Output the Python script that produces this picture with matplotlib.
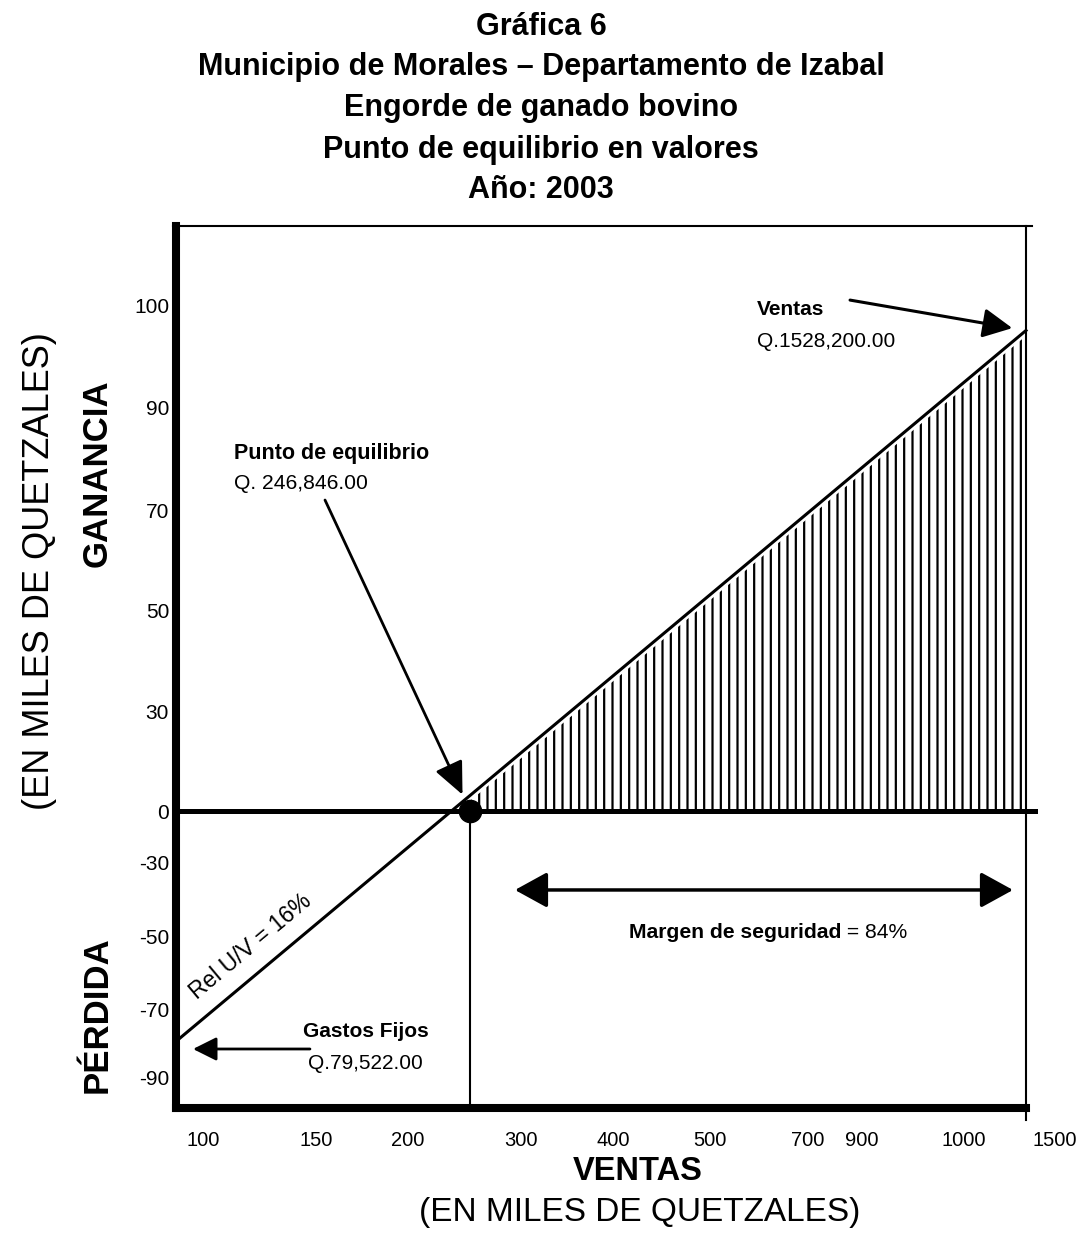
import numpy as np
import matplotlib
matplotlib.use("Agg")
import matplotlib.pyplot as plt
from matplotlib.transforms import ScaledTranslation

plt.rcParams['font.family'] = ['Liberation Sans', 'DejaVu Sans']
plt.rcParams['hatch.linewidth'] = 1.6

# ---------------- data ----------------
title_lines = ["Gráfica 6",
               "Municipio de Morales – Departamento de Izabal",
               "Engorde de ganado bovino",
               "Punto de equilibrio en valores",
               "Año: 2003"]
x_tick_values = [100, 150, 200, 300, 400, 500, 700, 900, 1000, 1500]
y_tick_values = [100, 90, 70, 50, 30, 0, -30, -50, -70, -90]
gastos_fijos = 79.522          # miles de Q
ventas_total = 1528.2          # miles de Q
punto_equilibrio = 246.846     # miles de Q
equilibrio_x = 255             # position of the break-even dot read on the x axis
ventas_y_end = 97.6            # height of the sales line at the right frame
rel_uv = 16
margen_seguridad = 84

# ---------------- layout (axis fractions of the tick labels) ----------------
x_tick_frac = [0.0318, 0.1647, 0.2729, 0.4059, 0.5141, 0.6282, 0.7435, 0.8071, 0.9271, 1.0341]
y_tick_frac = [0.9093, 0.7937, 0.6780, 0.5635, 0.4501, 0.3367, 0.2778, 0.1939, 0.1122, 0.0351]


def piecewise(xs, ps):
    xs = np.asarray(xs, float)
    ps = np.asarray(ps, float)
    order = np.argsort(xs)
    xs, ps = xs[order], ps[order]
    sl_lo = (ps[1] - ps[0]) / (xs[1] - xs[0])
    sl_hi = (ps[-1] - ps[-2]) / (xs[-1] - xs[-2])

    def f(v):
        v = np.asarray(v, dtype=float)
        out = np.interp(v, xs, ps)
        out = np.where(v < xs[0], ps[0] + (v - xs[0]) * sl_lo, out)
        out = np.where(v > xs[-1], ps[-1] + (v - xs[-1]) * sl_hi, out)
        return out
    return f


fx = piecewise(x_tick_values, x_tick_frac)
fx_inv = piecewise(x_tick_frac, x_tick_values)
fy = piecewise(y_tick_values, y_tick_frac)
fy_inv = piecewise(y_tick_frac, y_tick_values)

W, H = 1078, 1239
fig = plt.figure(figsize=(W / 100, H / 100), dpi=100)
L, R, B, T = 176, 1026, 1108, 226
ax = fig.add_axes([L / W, 1 - B / H, (R - L) / W, (B - T) / H])

ax.set_xscale('function', functions=(fx, fx_inv))
ax.set_yscale('function', functions=(fy, fy_inv))
x0, x1 = float(fx_inv(0.0)), float(fx_inv(1.0))
y0, y1 = float(fy_inv(0.0)), float(fy_inv(1.0))
ax.set_xlim(x0, x1)
ax.set_ylim(y0, y1)

# frame
for s in ['top', 'right']:
    ax.spines[s].set_visible(False)
for s in ['left', 'bottom']:
    ax.spines[s].set_linewidth(5.8)
ax.axhline(y1, xmin=-0.004, xmax=1.007, color='k', lw=1.5, clip_on=False)
ax.axvline(x1, ymin=-0.014, ymax=1.0, color='k', lw=1.5, clip_on=False)

# ticks
ax.set_yticks(y_tick_values)
ax.set_yticklabels([str(v) for v in y_tick_values], fontsize=15)
ax.tick_params(axis='y', length=0, pad=5)
ax.set_xticks([])
xt = ax.get_xaxis_transform()
for v in x_tick_values:
    ax.text(v, -0.0363, str(v), transform=xt, ha='center', va='center',
            fontsize=14.5, clip_on=False)

# sales line
ax.plot([x0, x1], [-gastos_fijos, ventas_y_end], color='k', lw=2.2, clip_on=False, zorder=4)
t = (fy(0.0) - fy(-gastos_fijos)) / (fy(ventas_y_end) - fy(-gastos_fijos))
x_cross = float(fx_inv(fx(x0) + t * (fx(x1) - fx(x0))))

# hatched profit area (slightly offset so the hatch stops just below the line)
shift = ax.transData + ScaledTranslation(0.07, 0.0, fig.dpi_scale_trans)
ax.fill([x_cross, x1, x1], [0, 0, ventas_y_end], facecolor='none', edgecolor='k',
        hatch='||', linewidth=0, zorder=2, transform=shift)

# zero line
ax.axhline(0, xmin=0, xmax=1.011, color='k', lw=3.6, clip_on=False, zorder=4)

# break-even vertical line and dot
ax.plot([equilibrio_x, equilibrio_x], [y0, 0], color='k', lw=1.5, zorder=3)
ax.plot([equilibrio_x], [0], 'o', color='k', ms=16, zorder=6)

# annotations
ax.annotate('', xy=(equilibrio_x, 0), xycoords='data',
            xytext=(0.1753, 0.6893), textcoords='axes fraction',
            arrowprops=dict(arrowstyle='-|>,head_length=1.0,head_width=0.45',
                            mutation_scale=20, lw=2, color='k', shrinkA=0, shrinkB=13))
ax.text(0.0682, 0.7426, 'Punto de equilibrio', transform=ax.transAxes, fontsize=15.5,
        fontweight='bold', va='center', ha='left')
ax.text(0.0682, 0.7086, 'Q. 246,846.00', transform=ax.transAxes, fontsize=15.2,
        va='center', ha='left')

ax.annotate('', xy=(x1, ventas_y_end), xycoords='data',
            xytext=(0.793, 0.916), textcoords='axes fraction',
            arrowprops=dict(arrowstyle='-|>,head_length=0.9,head_width=0.45',
                            mutation_scale=20, lw=2.2, color='k', shrinkA=0, shrinkB=10))
ax.text(0.6835, 0.9048, 'Ventas', transform=ax.transAxes, fontsize=15,
        fontweight='bold', va='center', ha='left')
ax.text(0.6835, 0.8685, 'Q.1528,200.00', transform=ax.transAxes, fontsize=15,
        va='center', ha='left')

ax.annotate('', xy=(0.02, 0.0669), xycoords='axes fraction',
            xytext=(0.1576, 0.0669), textcoords='axes fraction',
            arrowprops=dict(arrowstyle='-|>,head_length=0.9,head_width=0.45',
                            mutation_scale=16, lw=2, color='k', shrinkA=0, shrinkB=0))
ax.text(0.1494, 0.0862, 'Gastos Fijos', transform=ax.transAxes, fontsize=15,
        fontweight='bold', va='center', ha='left')
ax.text(0.1553, 0.0510, 'Q.79,522.00', transform=ax.transAxes, fontsize=15,
        va='center', ha='left')

ax.annotate('', xy=(0.9847, 0.2472), xycoords='axes fraction',
            xytext=(0.3988, 0.2472), textcoords='axes fraction',
            arrowprops=dict(arrowstyle='<|-|>,head_length=1.0,head_width=0.55',
                            mutation_scale=20, lw=2.5, color='k', shrinkA=0, shrinkB=0))
ax.text(0.7824, 0.1995, 'Margen de seguridad', transform=ax.transAxes, fontsize=15.2,
        fontweight='bold', va='center', ha='right')
ax.text(0.7824, 0.1995, f' = {margen_seguridad}%', transform=ax.transAxes, fontsize=15.2,
        va='center', ha='left')

ang = np.degrees(np.arctan2((B - T) * (fy(ventas_y_end) - fy(-gastos_fijos)), (R - L)))
ax.text(0.0882, 0.1825, f'Rel U/V = {rel_uv}%', transform=ax.transAxes, fontsize=16.5,
        rotation=float(ang), rotation_mode='anchor', ha='center', va='center')

# axis titles
fig.text(40 / W, 1 - 571 / H, '(EN MILES DE QUETZALES)', rotation=90, fontsize=26,
         ha='center', va='center')
fig.text(97 / W, 1 - 473 / H, 'GANANCIA', rotation=90, fontsize=25, fontweight='bold',
         ha='center', va='center')
fig.text(97 / W, 1 - 1015 / H, 'PÉRDIDA', rotation=90, fontsize=25, fontweight='bold',
         ha='center', va='center')
fig.text(638 / W, 1 - 1172 / H, 'VENTAS', fontsize=23.5, fontweight='bold',
         ha='center', va='center')
fig.text(640 / W, 1 - 1212 / H, '(EN MILES DE QUETZALES)', fontsize=24,
         ha='center', va='center')

# title
for line, yc in zip(title_lines, [27, 67, 108, 150, 190]):
    fig.text(541 / W, 1 - yc / H, line, fontsize=22, fontweight='bold',
             ha='center', va='center')

fig.savefig('out.png', dpi=100)
